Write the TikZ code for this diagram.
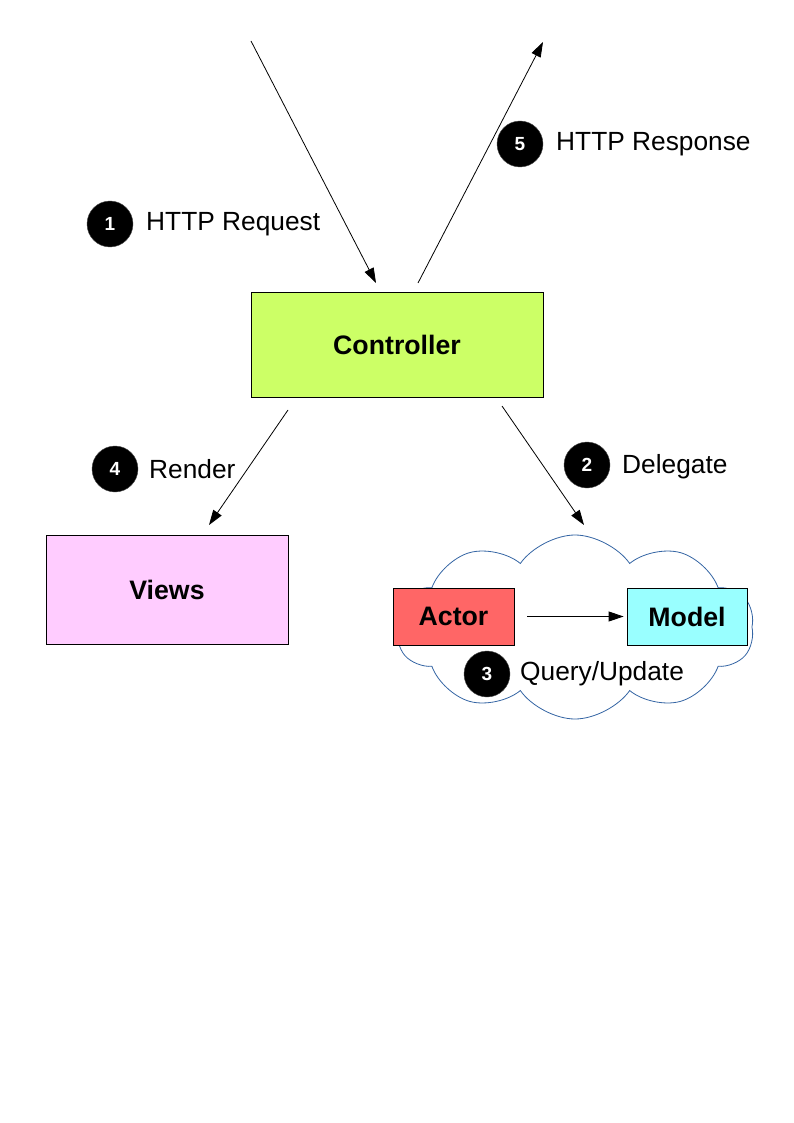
\documentclass[tikz,border=0pt]{standalone}
\usepackage{fontspec}
\setmainfont{Liberation Sans}
\usetikzlibrary{arrows.meta,shapes.symbols}
\definecolor{ctrlfill}{HTML}{CCFF66}
\definecolor{viewfill}{HTML}{FFCCFF}
\definecolor{actorfill}{HTML}{FF6666}
\definecolor{modelfill}{HTML}{99FFFF}
\definecolor{cloudline}{HTML}{3465A4}
\tikzset{
  box/.style={draw=black, line width=0.8pt, rectangle, inner sep=0pt,
    font=\fontsize{26.7}{32}\selectfont\bfseries},
  badge/.style={circle, fill=black, draw=black!70, inner sep=0pt, minimum size=46pt,
    text=white, font=\fontsize{19}{22}\selectfont\bfseries},
  lbl/.style={anchor=west, inner sep=0pt, font=\fontsize{26.3}{32}\selectfont},
  flow/.style={draw=black, line width=0.8pt, -{Triangle[length=15pt,width=10pt]}}
}
\begin{document}
\begin{tikzpicture}[x=1pt,y=-1pt]
\useasboundingbox[fill=white] (0,0) rectangle (794,1123);

% cloud
\node[cloud, cloud puffs=10, cloud puff arc=110, cloud ignores aspect,
  draw=cloudline, line width=0.8pt, minimum width=358pt, minimum height=184pt, inner sep=0pt]
  (cloud) at (575,627) {};

% boxes
\node[box, fill=ctrlfill, minimum width=292pt, minimum height=105pt] (ctrl) at (397,344.5) {Controller};
\node[box, fill=viewfill, minimum width=242pt, minimum height=109pt] (views) at (167,589.5) {Views};
\node[box, fill=actorfill, minimum width=121pt, minimum height=57pt] (actor) at (453.5,616.5) {Actor};
\node[box, fill=modelfill, minimum width=120pt, minimum height=57pt] (model) at (687,616.5) {Model};

% arrow endpoints
\coordinate (reqS) at (251,41);
\coordinate (reqE) at (376,283);
\coordinate (resS) at (418,283);
\coordinate (resE) at (543,42);
\coordinate (renS) at (288,410);
\coordinate (renE) at (209,525);
\coordinate (delS) at (502,406);
\coordinate (delE) at (584,525);

\draw[flow] (reqS) -- (reqE);
\draw[flow] (resS) -- (resE);
\draw[flow] (renS) -- (renE);
\draw[flow] (delS) -- (delE);
\draw[flow] ([xshift=13pt]actor.east) -- ([xshift=-3pt]model.west);

% badges and labels
\node[badge] (b1) at (110,224) {1};
\node[lbl] (l1) at (146,224) {HTTP Request};
\node[badge] (b5) at (520,144) {5};
\node[lbl] (l5) at (556,144) {HTTP Response};
\node[badge] (b4) at (115,469) {4};
\node[lbl] (l4) at (149,469) {Render};
\node[badge] (b2) at (587,465) {2};
\node[lbl] (l2) at (622,467) {Delegate};
\node[badge] (b3) at (487,674) {3};
\node[lbl] (l3) at (520,674) {Query/Update};
\end{tikzpicture}
\end{document}
